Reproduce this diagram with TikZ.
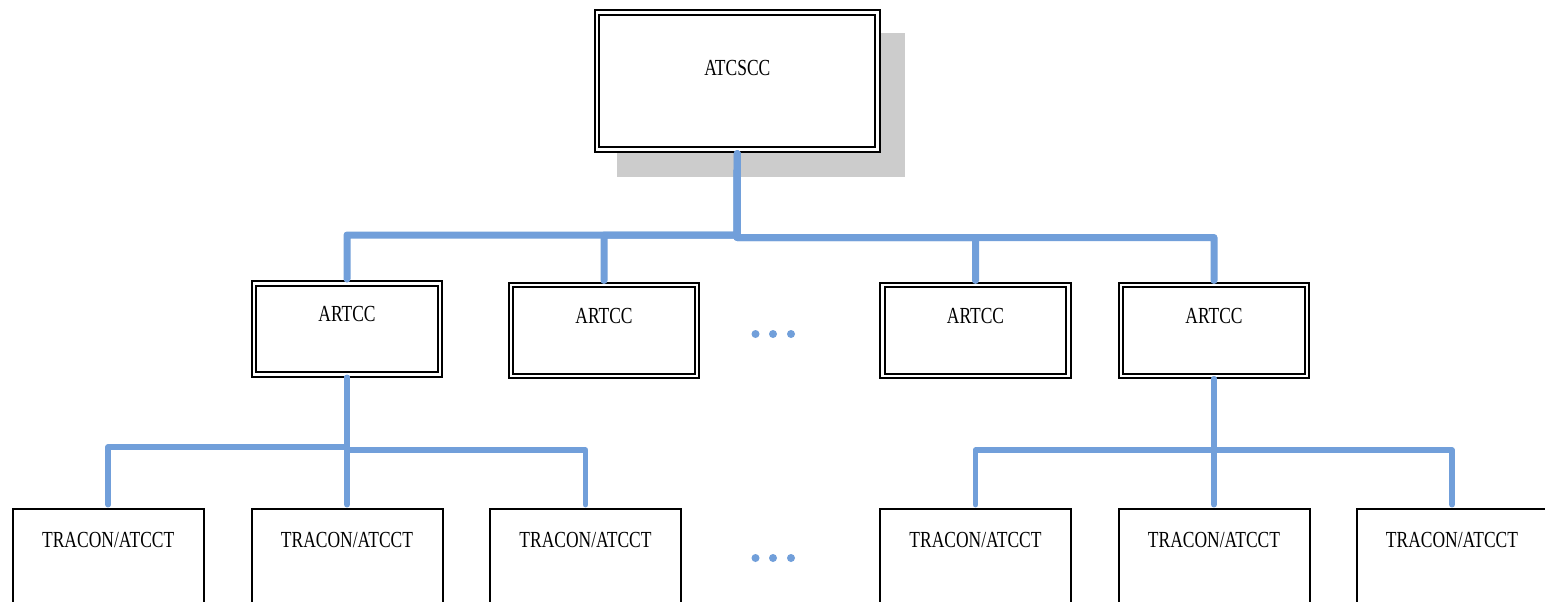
\documentclass[tikz,border=0pt]{standalone}
\usepackage{fontspec}
\setmainfont[FakeStretch=0.76]{Liberation Serif}
\usetikzlibrary{calc}
\definecolor{linkblue}{RGB}{113,159,218}
\definecolor{shadowgray}{RGB}{204,204,204}
\begin{document}
\begin{tikzpicture}[x=1pt,y=-1pt,
  dblbox/.style={draw, line width=2pt, double, double distance=2.5pt, fill=white, inner sep=0pt},
  topbox/.style={dblbox, minimum width=280.7pt, minimum height=137.2pt},
  midbox/.style={dblbox, minimum width=186pt, minimum height=91pt},
  lowbox/.style={draw, line width=2pt, fill=white, inner sep=0pt, minimum width=191pt, minimum height=200pt},
  lbl/.style={anchor=base, inner sep=0pt, font=\fontsize{23}{27}\selectfont},
  link/.style={draw=linkblue, line width=7pt, line cap=round, line join=round},
  linkthin/.style={draw=linkblue, line width=5.5pt, line cap=round, line join=round},
  dot/.style={fill=linkblue}]
\useasboundingbox (0,0) rectangle (1545,602);
\fill[white] (0,0) rectangle (1545,602);
% shadow
\fill[shadowgray] (617,33) rectangle (905,177);
% top
\node[topbox] (atc) at (737.3,81.1) {};
\node[lbl] (atcT) at ($(atc.north)+(0,63.5)$) {ATCSCC};
% middle
\node[midbox] (a1) at (347,329) {};
\node[midbox] (a2) at (604,330.5) {};
\node[midbox] (a3) at (975.5,330.5) {};
\node[midbox] (a4) at (1214,330.5) {};
\foreach \n in {a1,a2,a3,a4}{
  \node[lbl] (\n T) at ($(\n.north)+(0,39)$) {ARTCC};
}
% bottom
\node[lowbox] (t1) at (108.2,608.7) {};
\node[lowbox] (t2) at (347,608.7) {};
\node[lowbox] (t3) at (585.5,608.7) {};
\node[lowbox] (t4) at (975.5,608.7) {};
\node[lowbox] (t5) at (1214,608.7) {};
\node[lowbox] (t6) at (1452,608.7) {};
\foreach \n in {t1,t2,t3,t4,t5,t6}{
  \node[lbl] (\n T) at ($(\n.north)+(0,39.3)$) {TRACON/ATCCT};
}
% dots
\foreach \x in {755.5,773,791}{
  \fill[dot] (\x,334) circle (4);
  \fill[dot] (\x,558) circle (4);
}
% top connectors
\coordinate (atcS) at ($(atc.south)+(0,3)$);
\coordinate (jL) at (737,235);
\coordinate (jR) at (737,237.5);
\draw[link] (atcS) -- (jL) -| ($(a1.north)+(0,-3.5)$);
\draw[link] (atcS) -- (jL) -| ($(a2.north)+(0,-3.5)$);
\draw[link] (atcS) -- (jR) -| ($(a3.north)+(0,-3.5)$);
\draw[link] (atcS) -- (jR) -| ($(a4.north)+(0,-3.5)$);
% lower left connectors
\coordinate (a1S) at ($(a1.south)+(0,2)$);
\coordinate (kL) at (347,447);
\coordinate (kR) at (347,450);
\draw[linkthin] (a1S) -- (kL) -| ($(t1.north)+(0,-3)$);
\draw[linkthin] (a1S) -- ($(t2.north)+(0,-3)$);
\draw[linkthin] (a1S) -- (kR) -| ($(t3.north)+(0,-3)$);
% lower right connectors
\coordinate (a4S) at ($(a4.south)+(0,2)$);
\coordinate (mJ) at (1214,450);
\draw[linkthin] (a4S) -- (mJ) -| ($(t4.north)+(0,-3)$);
\draw[linkthin] (a4S) -- ($(t5.north)+(0,-3)$);
\draw[linkthin] (a4S) -- (mJ) -| ($(t6.north)+(0,-3)$);
\end{tikzpicture}
\end{document}
